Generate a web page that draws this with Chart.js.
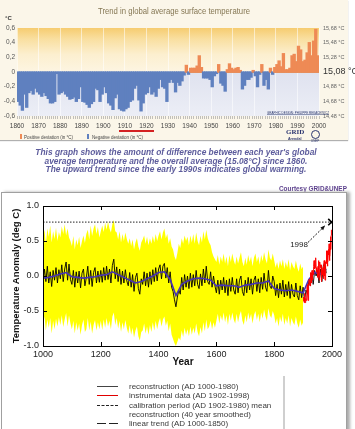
<!DOCTYPE html>
<html><head><meta charset="utf-8">
<script src="https://cdn.jsdelivr.net/npm/chart.js@4.4.1/dist/chart.umd.min.js"></script>
<style>
html,body{margin:0;padding:0;}
body{width:355px;height:429px;position:relative;overflow:hidden;background:#fff;font-family:"Liberation Sans",Arial,sans-serif;}
.abs{position:absolute;white-space:nowrap;}
#topPanel{left:0;top:0;width:348px;height:140px;background:#fbf6e9;box-shadow:0 1px 1px #b0b0b0;}
#c1{position:absolute;left:0;top:0;}
#title{left:0;top:5px;width:348px;text-align:center;font-size:9.3px;line-height:12px;color:#857754;transform:scaleX(0.83);}
#degc{left:5px;top:15px;font-size:6px;font-weight:bold;color:#333;}
.cap{left:0;width:352px;text-align:center;font-size:9.3px;line-height:10px;font-weight:bold;font-style:italic;color:#5d5c9c;transform:scaleX(0.9);}
#courtesy{right:8px;top:184px;font-size:8px;font-weight:bold;color:#5b3f8c;transform:scaleX(0.8);transform-origin:100% 0;}
#botPanel{left:1px;top:192px;width:344px;height:245px;border:1px solid #a0a0a0;background:#fff;box-shadow:3px 0 3px #aaa;}
#c2{position:absolute;left:0;top:193px;}
#ytitle{left:-64px;top:270px;width:160px;text-align:center;font-size:9.5px;line-height:12px;font-weight:bold;color:#111;transform:rotate(-90deg);}
#xtitle{left:163px;top:356px;width:40px;text-align:center;font-size:10px;line-height:12px;font-weight:bold;color:#111;}
.lg{left:129px;font-size:8px;line-height:9px;color:#3a3a3a;}
.sw{left:97px;width:21px;height:0;}
#lgshadow{left:283px;top:376px;width:2px;height:60px;background:#cfcfcf;}
.small{font-size:6px;line-height:7px;transform-origin:0 0;}
</style></head>
<body>
<div id="topPanel" class="abs"></div>
<canvas id="c1" width="355" height="140"></canvas>
<div id="title" class="abs">Trend in global average surface temperature</div>
<div id="degc" class="abs">°C</div>
<div class="abs" style="left:119px;top:130px;width:35px;height:2px;background:#d42222;"></div>
<div class="abs" style="left:19.5px;top:134px;width:2px;height:5px;background:#ee8a55;"></div>
<div class="abs small" style="left:23.5px;top:134.5px;color:#444;transform:scale(0.75);">Positive deviation (in °C)</div>
<div class="abs" style="left:87px;top:134px;width:2px;height:5px;background:#5f80bf;"></div>
<div class="abs small" style="left:92px;top:134.5px;color:#444;transform:scale(0.75);">Negative deviation (in °C)</div>
<div class="abs small" style="left:267px;top:110.5px;color:#2d3a6e;transform:scale(0.5);text-decoration:underline;">GRAPHIC DESIGN: PHILIPPE REKACEWICZ</div>
<div class="abs" style="left:286px;top:128px;font-size:7px;font-weight:bold;color:#2b3570;font-family:'Liberation Serif',serif;">GRID</div>
<div class="abs small" style="left:288px;top:136.5px;color:#2b3570;font-weight:bold;transform:scale(0.6);">Arendal</div>
<div class="abs" style="left:311px;top:130px;width:7px;height:7px;border:1px solid #2b3570;border-radius:50%;"></div>
<div class="abs small" style="left:311px;top:139px;color:#2b3570;transform:scale(0.5);">UNEP</div>

<div class="abs cap" style="top:147px;">This graph shows the amount of difference between each year's global</div>
<div class="abs cap" style="top:155.5px;">average temperature and the overall average (15.08°C) since 1860.</div>
<div class="abs cap" style="top:164px;">The upward trend since the early 1990s indicates global warming.</div>
<div id="courtesy" class="abs">Courtesy GRID&amp;UNEP</div>

<div id="botPanel" class="abs"></div>
<canvas id="c2" width="345" height="170"></canvas>
<div id="ytitle" class="abs">Temperature Anomaly (deg C)</div>
<div id="xtitle" class="abs">Year</div>

<div class="abs sw" style="top:386px;border-top:1px solid #444;"></div>
<div class="abs lg" style="top:381.5px;">reconstruction (AD 1000-1980)</div>
<div class="abs sw" style="top:395px;border-top:1px solid #e00000;"></div>
<div class="abs lg" style="top:390.5px;">instrumental data (AD 1902-1998)</div>
<div class="abs sw" style="top:405px;border-top:1px dashed #222;"></div>
<div class="abs lg" style="top:400.5px;">calibration period (AD 1902-1980) mean</div>
<div class="abs lg" style="top:409.5px;">reconstruction (40 year smoothed)</div>
<div class="abs" style="left:97px;top:423px;width:9px;border-top:1px solid #222;"></div>
<div class="abs" style="left:109px;top:423px;width:9px;border-top:1px solid #222;"></div>
<div class="abs lg" style="top:418.5px;">linear trend (AD 1000-1850)</div>
<div id="lgshadow" class="abs"></div>

<script>
// ---------- Top chart data: yearly deviation from 15.08 °C, 1860-1999 ----------
const devStartYear = 1860;
const deviations = [
 -0.40,-0.45,-0.52,-0.30,-0.48,-0.28,-0.25,-0.30,-0.22,-0.27,
 -0.30,-0.33,-0.28,-0.32,-0.36,-0.42,-0.42,-0.40,-0.02,-0.30,
 -0.28,-0.26,-0.30,-0.33,-0.37,-0.36,-0.34,-0.40,-0.36,-0.20,
 -0.40,-0.41,-0.44,-0.48,-0.43,-0.40,-0.22,-0.24,-0.40,-0.30,
 -0.20,-0.28,-0.42,-0.45,-0.51,-0.35,-0.30,-0.50,-0.52,-0.53,
 -0.50,-0.48,-0.40,-0.38,-0.22,-0.18,-0.38,-0.53,-0.42,-0.30,
 -0.28,-0.20,-0.30,-0.27,-0.33,-0.22,-0.10,-0.20,-0.22,-0.40,
 -0.14,-0.10,-0.14,-0.27,-0.14,-0.18,-0.12,-0.04, 0.09,-0.03,
  0.05, 0.05, 0.05, 0.08, 0.22, 0.06,-0.08,-0.08,-0.08,-0.10,
 -0.20,-0.05,-0.02, 0.10,-0.15,-0.18,-0.26, 0.03, 0.11, 0.05,
  0.03, 0.05, 0.06, 0.02,-0.23,-0.18,-0.10,-0.10,-0.07, 0.02,
 -0.05,-0.20,-0.03, 0.10,-0.18,-0.10,-0.23, 0.05,-0.03, 0.06,
  0.10, 0.15, 0.07, 0.25, 0.03, 0.03, 0.05, 0.22, 0.24, 0.14,
  0.35, 0.30, 0.14, 0.16, 0.26, 0.40, 0.22, 0.42, 0.58, 0.22
];
const devYears = deviations.map((_, i) => devStartYear + i);
const baseTemp = 15.08;
const yTicksTop = [-0.6, -0.4, -0.2, 0, 0.2, 0.4, 0.6];

// ---------- Bottom chart data ----------
const reconStart = 1000, reconStep = 5;       // reconstruction AD 1000-1980
const reconstruction = [
 -0.12, 0.10,-0.08, 0.14,-0.10, 0.06,-0.15, 0.08,-0.06, 0.12,-0.10, 0.09,-0.04, 0.16,-0.08, 0.10, 0.20,-0.06, 0.17,-0.05,
 -0.12, 0.08,-0.16, 0.06,-0.10, 0.07,-0.17, 0.04, 0.10,-0.14,-0.02, 0.14,-0.12, 0.08,-0.15, 0.05, 0.12,-0.10, 0.07,-0.09,
  0.08,-0.09, 0.12,-0.06, 0.14,-0.05, 0.10,-0.10, 0.15, 0.24,-0.04, 0.13,-0.08, 0.10,-0.12, 0.07,-0.10, 0.09,-0.07,-0.14,
  0.05,-0.16, 0.02,-0.22,-0.02, 0.04,-0.18,-0.26,-0.04,-0.12, 0.06,-0.14, 0.04,-0.16, 0.06,-0.12, 0.09,-0.08, 0.12,-0.07,
  0.10, 0.16,-0.04, 0.14, 0.18,-0.03, 0.12,-0.10, 0.06,-0.16,-0.22,-0.34,-0.44,-0.30,-0.20,-0.26,-0.02,-0.20, 0.02,-0.16,
  0.00,-0.18, 0.04,-0.16, 0.02,-0.14, 0.08,-0.12,-0.18, 0.03,-0.14, 0.10,-0.10, 0.14,-0.08,-0.12, 0.06,-0.16, 0.00,-0.14,
 -0.24,-0.06,-0.26,-0.06,-0.20,-0.02,-0.24,-0.06,-0.28,-0.04,-0.22,-0.02,-0.20,-0.26,-0.04,-0.24,-0.06, 0.00,-0.22,-0.28,
 -0.06,-0.24,-0.02,-0.20,-0.04,-0.26,-0.06, 0.00,-0.22,-0.04,-0.24,-0.02,-0.19, 0.04,-0.16,-0.22, 0.08,-0.14,-0.18, 0.00,
 -0.08,-0.28,-0.12,-0.31,-0.10,-0.26,-0.06,-0.30,-0.12,-0.28,-0.08,-0.32,-0.12,-0.26,-0.30,-0.10,-0.28,-0.34,-0.14,-0.31,
 -0.16,-0.36,-0.20,-0.26,-0.06,-0.14, 0.04,-0.12, 0.08, 0.00, 0.08,-0.10, 0.10,-0.08, 0.14, 0.20, 0.04
];
const bandUpper = [   // AD 1000-1900, 5-year steps
 0.55,0.66,0.46,0.68,0.56,0.72,0.48,0.64,0.53,0.69,0.50,0.63,0.55,0.71,0.60,0.74,0.58,0.68,0.55,0.50,
 0.43,0.57,0.38,0.52,0.44,0.56,0.40,0.50,0.58,0.47,0.60,0.66,0.52,0.72,0.57,0.68,0.74,0.60,0.70,0.55,
 0.64,0.72,0.63,0.76,0.66,0.78,0.68,0.62,0.74,0.80,0.64,0.62,0.52,0.64,0.48,0.60,0.50,0.62,0.53,0.46,
 0.54,0.43,0.52,0.38,0.48,0.54,0.42,0.36,0.48,0.52,0.58,0.46,0.56,0.44,0.54,0.46,0.57,0.48,0.60,0.50,
 0.58,0.64,0.52,0.62,0.68,0.54,0.60,0.46,0.54,0.42,0.38,0.28,0.23,0.33,0.46,0.40,0.54,0.46,0.58,0.50,
 0.56,0.44,0.58,0.48,0.60,0.46,0.62,0.50,0.44,0.57,0.48,0.64,0.52,0.66,0.54,0.48,0.44,0.34,0.28,0.24,
 0.20,0.30,0.16,0.28,0.20,0.32,0.18,0.28,0.14,0.30,0.20,0.32,0.22,0.16,0.28,0.18,0.26,0.34,0.20,0.14,
 0.26,0.16,0.30,0.20,0.28,0.14,0.26,0.32,0.20,0.28,0.16,0.30,0.21,0.34,0.24,0.18,0.38,0.26,0.22,0.32,
 0.22,0.12,0.20,0.10,0.22,0.14,0.24,0.10,0.20,0.12,0.24,0.08,0.20,0.14,0.10,0.22,0.12,0.06,0.18,0.10,
 0.14
];
const bandLower = [
 -0.70,-0.58,-0.78,-0.62,-0.74,-0.60,-0.82,-0.64,-0.76,-0.61,-0.72,-0.59,-0.70,-0.56,-0.73,-0.62,-0.53,-0.72,-0.56,-0.68,
 -0.76,-0.64,-0.82,-0.66,-0.78,-0.68,-0.84,-0.70,-0.62,-0.80,-0.76,-0.60,-0.78,-0.65,-0.82,-0.70,-0.63,-0.78,-0.66,-0.76,
 -0.64,-0.77,-0.62,-0.74,-0.60,-0.72,-0.64,-0.76,-0.58,-0.52,-0.70,-0.60,-0.75,-0.64,-0.80,-0.66,-0.76,-0.63,-0.74,-0.82,
 -0.70,-0.84,-0.74,-0.88,-0.78,-0.72,-0.86,-0.92,-0.80,-0.78,-0.68,-0.82,-0.72,-0.84,-0.70,-0.80,-0.66,-0.78,-0.64,-0.76,
 -0.66,-0.60,-0.72,-0.62,-0.58,-0.71,-0.64,-0.79,-0.68,-0.84,-0.90,-0.96,-1.00,-0.94,-0.88,-0.92,-0.78,-0.87,-0.74,-0.84,
 -0.76,-0.86,-0.72,-0.84,-0.74,-0.82,-0.68,-0.80,-0.86,-0.73,-0.82,-0.66,-0.79,-0.62,-0.76,-0.72,-0.64,-0.76,-0.66,-0.74,
 -0.64,-0.54,-0.68,-0.56,-0.64,-0.52,-0.66,-0.56,-0.70,-0.54,-0.64,-0.52,-0.62,-0.68,-0.54,-0.66,-0.56,-0.50,-0.64,-0.70,
 -0.56,-0.66,-0.52,-0.62,-0.54,-0.68,-0.56,-0.50,-0.63,-0.54,-0.66,-0.52,-0.61,-0.48,-0.58,-0.64,-0.46,-0.56,-0.60,-0.50,
 -0.56,-0.68,-0.60,-0.72,-0.58,-0.66,-0.54,-0.70,-0.60,-0.68,-0.56,-0.72,-0.60,-0.66,-0.70,-0.58,-0.68,-0.74,-0.62,-0.71,
 -0.66
];
const smoothStart = 1000, smoothStep = 20;   // 40-year smoothed reconstruction
const smoothed = [
 -0.03,-0.02, 0.00, 0.03, 0.05,-0.01,-0.02,-0.03,-0.02,-0.01,
  0.01, 0.02, 0.06, 0.02,-0.02,-0.06,-0.10,-0.08,-0.04, 0.00,
  0.05, 0.06,-0.05,-0.28,-0.12,-0.07,-0.04,-0.03,-0.04,-0.06,
 -0.14,-0.13,-0.14,-0.14,-0.16,-0.13,-0.12,-0.10,-0.10,-0.07,
 -0.18,-0.20,-0.21,-0.20,-0.22,-0.24,-0.05, 0.05, 0.03, 0.10
];
const instrStart = 1902;                     // instrumental AD 1902-1998
const instrumental = [
 -0.30,-0.36,-0.38,-0.30,-0.25,-0.38,-0.35,-0.33,-0.32,-0.35,
 -0.34,-0.30,-0.15,-0.12,-0.25,-0.35,-0.22,-0.18,-0.15,-0.05,
 -0.12,-0.08,-0.14,-0.02, 0.05,-0.02, 0.02,-0.10, 0.04, 0.08,
  0.05,-0.06, 0.08, 0.02, 0.06, 0.14, 0.22, 0.10, 0.12, 0.18,
  0.12, 0.16, 0.26, 0.10, 0.08, 0.12, 0.06, 0.04,-0.02, 0.10,
  0.14, 0.22, 0.02, 0.00,-0.06, 0.16, 0.20, 0.14, 0.12, 0.16,
  0.14, 0.16,-0.08,-0.02, 0.06, 0.08, 0.02, 0.12, 0.06,-0.04,
  0.08, 0.22, 0.00, 0.06,-0.06, 0.20, 0.14, 0.18, 0.22, 0.36,
  0.18, 0.36, 0.16, 0.14, 0.20, 0.34, 0.38, 0.30, 0.46, 0.42,
  0.22, 0.28, 0.40, 0.56, 0.38, 0.58, 0.66
];
const calibMean = 0.77;          // dotted reference level
const markYear = 1998, markValue = 0.77;
const arrowFrom = [1917, 0.48], arrowTo = [1976, 0.72];
const markLabel = '1998', markLabelAt = [1886, 0.45];
const xTicksBottom = [1000, 1200, 1400, 1600, 1800, 2000];
const yTicksBottom = [-1.0, -0.5, 0.0, 0.5, 1.0];

// ---------- helpers ----------
const NARROW = '"Liberation Sans Narrow","Arial Narrow","Liberation Sans",sans-serif';
const SANS = '"Liberation Sans",Arial,sans-serif';
const ORANGE = '#ee8a55', BLUE = '#5f80bf';
const series = (start, step, vals) => vals.map((v, i) => ({x: start + i * step, y: v}));

// ---------- Top chart ----------
const topBg = {
  id: 'topBg',
  beforeDraw(chart) {
    const {ctx, chartArea: a, scales: {y}} = chart;
    const z = y.getPixelForValue(0);
    ctx.save();
    let g = ctx.createLinearGradient(0, a.top, 0, z);
    g.addColorStop(0, '#f6cc70'); g.addColorStop(0.25, '#f9dfa0'); g.addColorStop(0.6, '#fcefcf'); g.addColorStop(1, '#fdf5e2');
    ctx.fillStyle = g; ctx.fillRect(a.left, a.top, a.right - a.left, z - a.top);
    g = ctx.createLinearGradient(0, z, 0, a.bottom);
    g.addColorStop(0, '#dfe2ef'); g.addColorStop(1, '#eceef6');
    ctx.fillStyle = g; ctx.fillRect(a.left, z, a.right - a.left, a.bottom - z);
    ctx.restore();
  },
  beforeDatasetsDraw(chart) {
    const {ctx, chartArea: a, scales: {y}} = chart;
    const z = Math.round(y.getPixelForValue(0)) + 0.5;
    ctx.save(); ctx.strokeStyle = '#d39a72'; ctx.lineWidth = 1;
    ctx.beginPath(); ctx.moveTo(a.left, z); ctx.lineTo(a.right, z); ctx.stroke(); ctx.restore();
  }
};
const fmtC = v => { const r = Math.round(v * 10) / 10; return r === 0 ? '0' : r.toFixed(1).replace('.', ','); };
new Chart(document.getElementById('c1'), {
  type: 'bar',
  data: { datasets: [{
    data: devYears.map((yr, i) => ({x: yr + 0.5, y: deviations[i]})),
    backgroundColor: ctx => (ctx.raw && ctx.raw.y >= 0) ? ORANGE : BLUE,
    borderWidth: 0, inflateAmount: 0.6, barPercentage: 1, categoryPercentage: 1, grouped: false
  }]},
  options: {
    responsive: false, animation: false, devicePixelRatio: 1,
    layout: { padding: { top: 28, left: 0, right: 0, bottom: 0 } },
    plugins: { legend: { display: false }, tooltip: { enabled: false } },
    scales: {
      x: { type: 'linear', min: 1860, max: 2000, offset: false,
        ticks: { stepSize: 1, autoSkip: false, maxRotation: 0, minRotation: 0, padding: 3,
          callback: v => (v % 10 === 0 ? String(v) : ''), color: '#444', font: { family: NARROW, size: 6.5 } },
        grid: { offset: false, drawTicks: true, tickLength: 3, tickWidth: 0.6, tickColor: '#9a9a9a',
          color: c => (c.tick && c.tick.value % 10 === 0) ? 'rgba(255,255,255,0.55)' : 'rgba(0,0,0,0)', lineWidth: 1 },
        border: { display: false },
        afterFit: s => { s.height = 24; } },
      y: { position: 'left', min: -0.6, max: 0.6,
        afterBuildTicks: s => { s.ticks = yTicksTop.map(v => ({value: v})); },
        ticks: { callback: v => fmtC(v), padding: 2, color: '#555', font: { family: NARROW, size: 6.5 } },
        grid: { display: false, drawTicks: false }, border: { display: false },
        afterFit: s => { s.width = 17; } },
      y2: { position: 'right', min: -0.6, max: 0.6,
        afterBuildTicks: s => { s.ticks = yTicksTop.map(v => ({value: v})); },
        ticks: { padding: 4,
          callback: v => (baseTemp + v).toFixed(2).replace('.', ',') + ' °C',
          color: c => (c.tick && Math.abs(c.tick.value) < 1e-9) ? '#333' : '#666',
          font: c => (c.tick && Math.abs(c.tick.value) < 1e-9) ? { family: NARROW, size: 9 } : { family: NARROW, size: 5.5 } },
        grid: { display: false, drawTicks: false }, border: { display: false },
        afterFit: s => { s.width = 36; } }
    }
  },
  plugins: [topBg]
});

// ---------- Bottom chart ----------
const frame = {
  id: 'frame',
  afterDraw(chart) {
    const {ctx, chartArea: a, scales: {x, y}} = chart;
    ctx.save(); ctx.strokeStyle = '#000'; ctx.lineWidth = 1;
    ctx.strokeRect(Math.round(a.left) + 0.5, Math.round(a.top) + 0.5, Math.round(a.right - a.left), Math.round(a.bottom - a.top));
    ctx.beginPath();
    xTicksBottom.slice(1, -1).forEach(v => {
      const px = Math.round(x.getPixelForValue(v)) + 0.5;
      ctx.moveTo(px, a.top); ctx.lineTo(px, a.top + 4);
      ctx.moveTo(px, a.bottom); ctx.lineTo(px, a.bottom - 4);
    });
    yTicksBottom.slice(1, -1).forEach(v => {
      const py = Math.round(y.getPixelForValue(v)) + 0.5;
      ctx.moveTo(a.left, py); ctx.lineTo(a.left + 4, py);
      ctx.moveTo(a.right, py); ctx.lineTo(a.right - 4, py);
    });
    ctx.stroke(); ctx.restore();
  },
  afterDatasetsDraw(chart) {
    const {ctx, scales: {x, y}} = chart;
    const x0 = x.getPixelForValue(arrowFrom[0]), y0 = y.getPixelForValue(arrowFrom[1]);
    const x1 = x.getPixelForValue(arrowTo[0]), y1 = y.getPixelForValue(arrowTo[1]);
    ctx.save(); ctx.strokeStyle = '#111'; ctx.fillStyle = '#111'; ctx.lineWidth = 1;
    ctx.setLineDash([2, 1.5]);
    ctx.beginPath(); ctx.moveTo(x0, y0); ctx.lineTo(x1, y1); ctx.stroke();
    ctx.setLineDash([]);
    const ang = Math.atan2(y1 - y0, x1 - x0), L = 5;
    ctx.beginPath(); ctx.moveTo(x1, y1);
    ctx.lineTo(x1 - L * Math.cos(ang - 0.4), y1 - L * Math.sin(ang - 0.4));
    ctx.lineTo(x1 - L * Math.cos(ang + 0.4), y1 - L * Math.sin(ang + 0.4));
    ctx.closePath(); ctx.fill();
    ctx.font = '8px ' + SANS; ctx.textAlign = 'center'; ctx.textBaseline = 'middle'; ctx.fillStyle = '#222';
    ctx.fillText(markLabel, x.getPixelForValue(markLabelAt[0]), y.getPixelForValue(markLabelAt[1]));
    ctx.restore();
  }
};
new Chart(document.getElementById('c2'), {
  type: 'line',
  data: { datasets: [
    { data: [{x: markYear, y: markValue}], showLine: false, pointStyle: 'crossRot', pointRadius: 4.5,
      borderColor: '#000', pointBorderWidth: 1.6, order: 1 },
    { data: [{x: 1000, y: calibMean}, {x: 2000, y: calibMean}], borderColor: '#222', borderWidth: 1,
      borderDash: [1.5, 1.5], pointRadius: 0, order: 2 },
    { data: series(instrStart, 1, instrumental), borderColor: '#ff0000', borderWidth: 1, pointRadius: 0, order: 3 },
    { data: series(smoothStart, smoothStep, smoothed), borderColor: '#4632b4', borderWidth: 1.6, pointRadius: 0, order: 4 },
    { data: series(reconStart, reconStep, reconstruction), borderColor: '#000', borderWidth: 0.9, pointRadius: 0, order: 5 },
    { data: series(reconStart, reconStep, bandUpper), borderWidth: 0, borderColor: 'rgba(0,0,0,0)', pointRadius: 0,
      fill: '+1', backgroundColor: '#ffff00', order: 10 },
    { data: series(reconStart, reconStep, bandLower), borderWidth: 0, borderColor: 'rgba(0,0,0,0)', pointRadius: 0,
      fill: false, order: 11 }
  ]},
  options: {
    responsive: false, animation: false, devicePixelRatio: 1,
    layout: { padding: { top: 13, right: 13, left: 0, bottom: 0 } },
    plugins: { legend: { display: false }, tooltip: { enabled: false } },
    elements: { line: { tension: 0 }, point: { radius: 0 } },
    scales: {
      x: { type: 'linear', min: 1000, max: 2000,
        afterBuildTicks: s => { s.ticks = xTicksBottom.map(v => ({value: v})); },
        ticks: { callback: v => String(v), maxRotation: 0, padding: 3, color: '#222', font: { family: SANS, size: 9 } },
        grid: { display: false, drawTicks: false }, border: { display: false },
        afterFit: s => { s.height = 17; } },
      y: { min: -1, max: 1,
        afterBuildTicks: s => { s.ticks = yTicksBottom.map(v => ({value: v})); },
        ticks: { callback: v => v.toFixed(1), padding: 4, color: '#222', font: { family: SANS, size: 9 } },
        grid: { display: false, drawTicks: false }, border: { display: false },
        afterFit: s => { s.width = 43; } }
    }
  },
  plugins: [frame]
});
</script>
</body></html>
